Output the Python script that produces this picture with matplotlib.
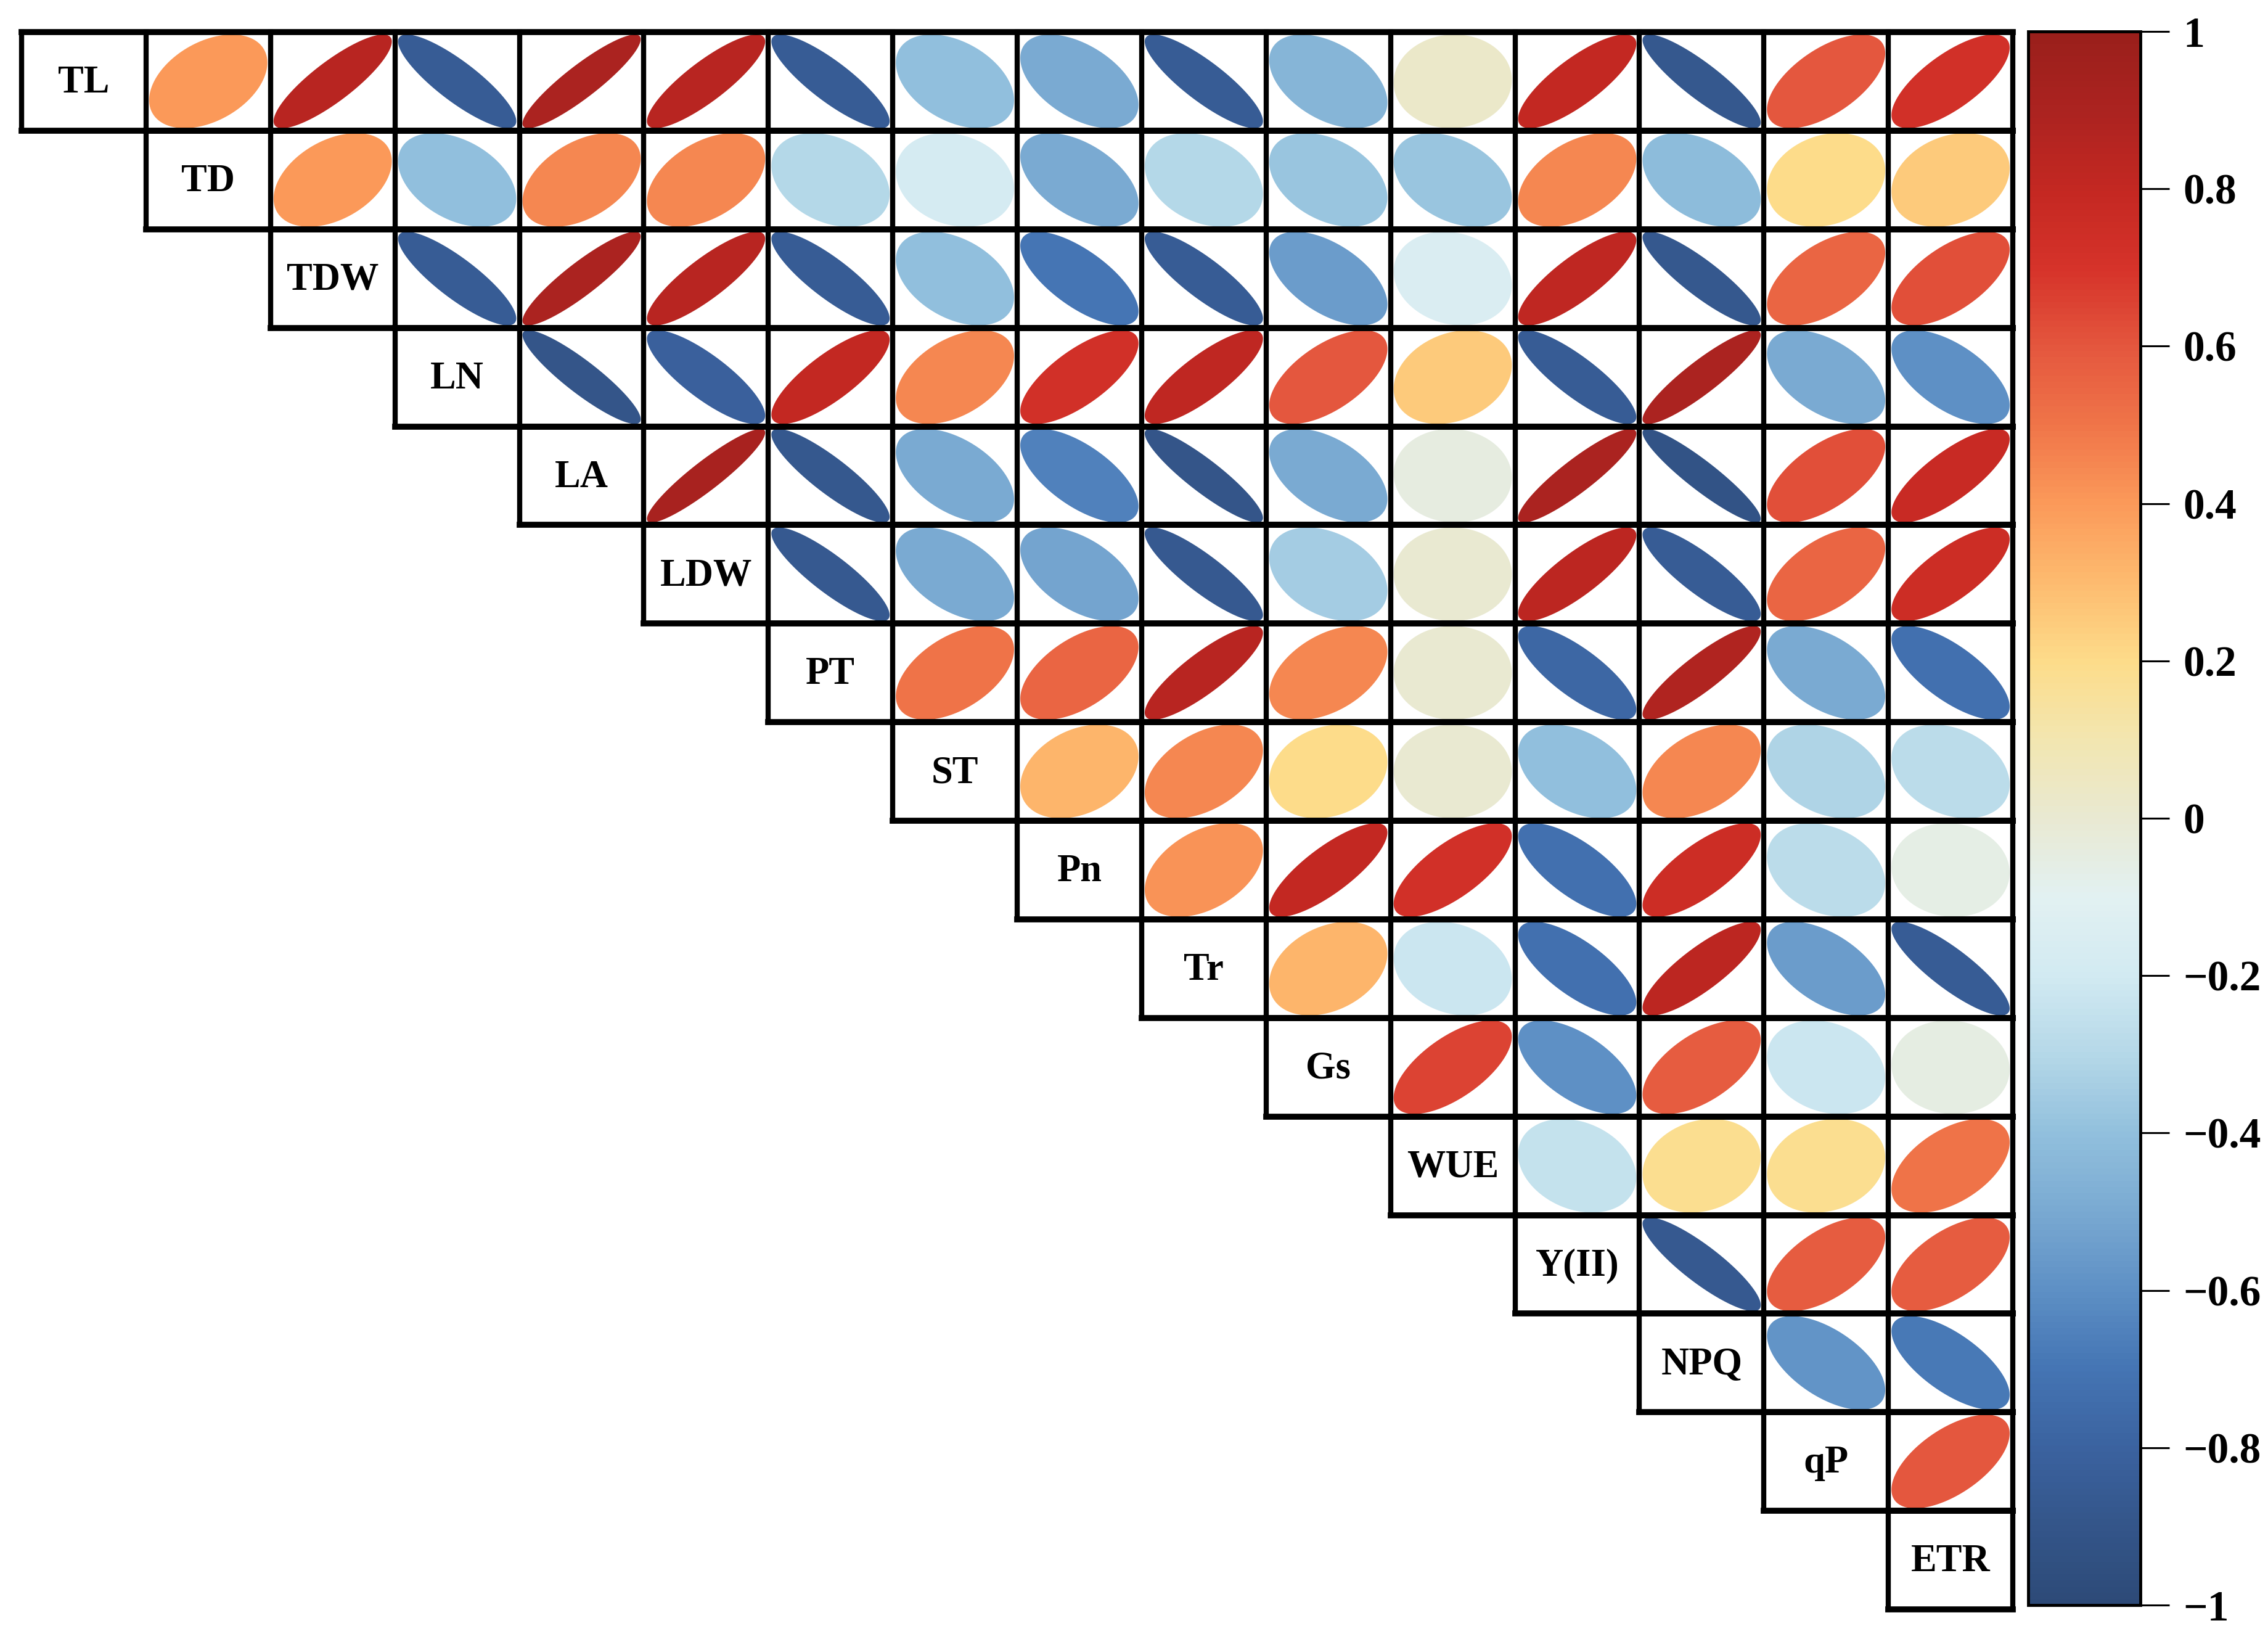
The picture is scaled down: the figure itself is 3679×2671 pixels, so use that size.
import numpy as np
import matplotlib
matplotlib.use("Agg")
import matplotlib.pyplot as plt
from matplotlib.colors import LinearSegmentedColormap, Normalize
from matplotlib.patches import Polygon
from matplotlib.cm import ScalarMappable

# ---------------- data ----------------
variables = ["TL", "TD", "TDW", "LN", "LA", "LDW", "PT", "ST", "Pn", "Tr",
             "Gs", "WUE", "Y(II)", "NPQ", "qP", "ETR"]

# upper-triangle correlations, row by row (values for columns to the right of the diagonal)
r_TL  = [0.40, 0.85, -0.85, 0.90, 0.85, -0.85, -0.40, -0.50, -0.85, -0.45, 0.03, 0.80, -0.88, 0.60, 0.72]
r_TD  = [0.40, -0.40, 0.45, 0.45, -0.30, -0.18, -0.50, -0.30, -0.38, -0.38, 0.45, -0.42, 0.20, 0.25]
r_TDW = [-0.85, 0.90, 0.85, -0.85, -0.40, -0.70, -0.85, -0.55, -0.15, 0.82, -0.88, 0.55, 0.62]
r_LN  = [-0.90, -0.82, 0.80, 0.45, 0.72, 0.82, 0.60, 0.25, -0.85, 0.90, -0.50, -0.60]
r_LA  = [0.92, -0.88, -0.50, -0.65, -0.90, -0.50, -0.04, 0.90, -0.92, 0.62, 0.78]
r_LDW = [-0.87, -0.50, -0.52, -0.87, -0.35, 0.00, 0.83, -0.85, 0.55, 0.75]
r_PT  = [0.50, 0.55, 0.85, 0.45, 0.00, -0.78, 0.88, -0.50, -0.72]
r_ST  = [0.32, 0.45, 0.20, 0.00, -0.40, 0.45, -0.32, -0.28]
r_Pn  = [0.42, 0.80, 0.72, -0.72, 0.75, -0.28, -0.06]
r_Tr  = [0.32, -0.22, -0.72, 0.83, -0.55, -0.85]
r_Gs  = [0.65, -0.60, 0.58, -0.22, -0.05]
r_WUE = [-0.25, 0.18, 0.18, 0.50]
r_YII = [-0.87, 0.58, 0.58]
r_NPQ = [-0.58, -0.68]
r_qP  = [0.60]

upper_rows = [r_TL, r_TD, r_TDW, r_LN, r_LA, r_LDW, r_PT, r_ST, r_Pn, r_Tr,
              r_Gs, r_WUE, r_YII, r_NPQ, r_qP]

cbar_ticks = [1, 0.8, 0.6, 0.4, 0.2, 0, -0.2, -0.4, -0.6, -0.8, -1]
cbar_ticklabels = ["1", "0.8", "0.6", "0.4", "0.2", "0",
                   "\u22120.2", "\u22120.4", "\u22120.6", "\u22120.8", "\u22121"]

n = len(variables)
corr = np.eye(n)
for i, row in enumerate(upper_rows):
    for k, v in enumerate(row):
        j = i + 1 + k
        corr[i, j] = v
        corr[j, i] = v

# ---------------- colours ----------------
anchor_vals = [-1.0, -0.9, -0.8, -0.7, -0.6, -0.5, -0.4, -0.3, -0.2, -0.1,
               0.0, 0.1, 0.2, 0.3, 0.4, 0.5, 0.6, 0.7, 0.8, 0.9, 1.0]
anchor_cols = ["#2d4a78", "#34568a", "#3b63a0", "#4575b4", "#5e90c5", "#7aaad2",
               "#92c0dd", "#b5d8e8", "#d2eaf2", "#e2f1f2",
               "#e9e9d2", "#f2e6b0", "#fddc8a", "#fdbb6f", "#fb9a5a", "#f07549",
               "#e4573e", "#d6332a", "#c42822", "#ac2320", "#9a1f1b"]
cmap = LinearSegmentedColormap.from_list(
    "corr", list(zip([(v + 1) / 2 for v in anchor_vals], anchor_cols)), N=256)
norm = Normalize(-1, 1)

FONT = "Liberation Serif"

# ---------------- figure ----------------
W, H = 3679, 2671
fig = plt.figure(figsize=(W / 100, H / 100), dpi=100)

x0, x1 = 35, 3265
y0, y1 = 52, 2610
ax = fig.add_axes([x0 / W, 1 - y1 / H, (x1 - x0) / W, (y1 - y0) / H])
ax.set_xlim(0, n)
ax.set_ylim(0, n)
ax.axis("off")

s = 0.95
t = np.linspace(0, 2 * np.pi, 200)
for i in range(n):
    cy = n - 1 - i + 0.5
    for j in range(i, n):
        cx = j + 0.5
        if j == i:
            ax.text(cx, cy - 0.02, variables[i], ha="center", va="center",
                    fontsize=45, fontweight="bold", family=FONT, color="black")
        else:
            r = corr[i, j]
            d = np.arccos(np.clip(r, -1, 1))
            ex = cx + s * np.cos(t + d / 2) / 2
            ey = cy + s * np.cos(t - d / 2) / 2
            ax.add_patch(Polygon(np.column_stack([ex, ey]), closed=True,
                                 facecolor=cmap(norm(r)), edgecolor="none", zorder=2))

# grid lines (staircase)
lw_h, lw_v = 7.0, 6.0
for i in range(n):
    top = n - i
    bot = n - i - 1
    ax.plot([i, n], [top, top], color="black", lw=lw_h, solid_capstyle="projecting",
            clip_on=False, zorder=3)
    ax.plot([i, n], [bot, bot], color="black", lw=lw_h, solid_capstyle="projecting",
            clip_on=False, zorder=3)
for j in range(n + 1):
    last_row = min(j, n - 1)
    ax.plot([j, j], [n, n - last_row - 1], color="black", lw=lw_v,
            solid_capstyle="projecting", clip_on=False, zorder=3)

# ---------------- colour bar ----------------
cb_x0, cb_x1 = 3290, 3472
cb_y0, cb_y1 = 51, 2603
cax = fig.add_axes([cb_x0 / W, 1 - cb_y1 / H, (cb_x1 - cb_x0) / W, (cb_y1 - cb_y0) / H])
sm = ScalarMappable(norm=norm, cmap=cmap)
cb = fig.colorbar(sm, cax=cax, orientation="vertical")
cb.set_ticks(cbar_ticks)
cb.set_ticklabels(cbar_ticklabels)
cb.outline.set_linewidth(3.5)
cax.tick_params(axis="y", length=34, width=2.2, pad=16, direction="out", right=True)
for lab in cax.get_yticklabels():
    lab.set_fontsize(50)
    lab.set_fontweight("bold")
    lab.set_family(FONT)
    lab.set_horizontalalignment("left")

fig.savefig("out.png", dpi=100, facecolor="white")
